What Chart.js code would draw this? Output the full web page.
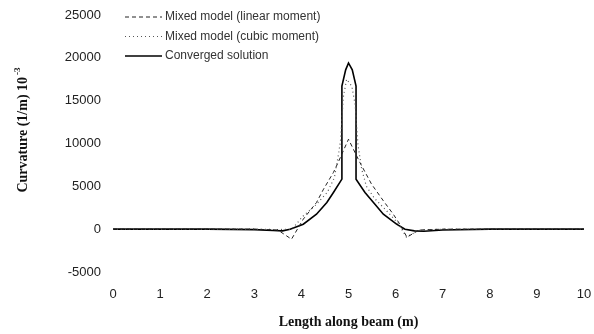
<!DOCTYPE html>
<html>
<head>
<meta charset="utf-8">
<title>Beam curvature</title>
<script src="https://cdn.jsdelivr.net/npm/chart.js@4.4.1/dist/chart.umd.min.js"></script>
<style>
    html, body { margin: 0; padding: 0; background: #fff; }
    #wrap { width: 594px; height: 334px; position: relative; }
</style>
</head>
<body>
<div id="wrap"><canvas id="curvatureChart"></canvas></div>
<script>
// ===== Data =====
const seriesNames = ['Mixed model (linear moment)', 'Mixed model (cubic moment)', 'Converged solution'];

const xTicks = [0, 1, 2, 3, 4, 5, 6, 7, 8, 9, 10];
const yTicks = [-5000, 0, 5000, 10000, 15000, 20000, 25000];

const linearX = [0, 1, 2, 3, 3.5, 3.79, 4.04, 4.32, 4.47, 4.68, 4.78, 5.0, 5.24, 5.49, 5.74, 5.95, 6.09, 6.24, 6.5, 7, 8, 9, 10];
const linearY = [0, 0, 0, 0, -100, -1170, 1170, 3110, 4670, 6620, 7790, 10500, 7800, 5250, 3310, 1750, 580, -930, -100, 0, 0, 0, 0];

const cubicX = [0, 1, 2, 3, 3.5, 3.8, 4.03, 4.3, 4.55, 4.7, 4.78, 4.83, 4.89, 4.96, 5.07, 5.14, 5.2, 5.28, 5.38, 5.55, 5.8, 6.05, 6.23, 6.5, 7, 8, 9, 10];
const cubicY = [0, 0, 0, 0, -50, 0, 1500, 2800, 4300, 6000, 8500, 10300, 15400, 17500, 16700, 14600, 9900, 7000, 5000, 3600, 2200, 700, -930, -100, 0, 0, 0, 0];

const convergedX = [0, 1, 2, 3, 3.4, 3.6, 3.76, 4.04, 4.32, 4.54, 4.68, 4.86, 4.86, 4.94, 5.0, 5.08, 5.16, 5.16, 5.35, 5.53, 5.74, 6.02, 6.2, 6.4, 6.6, 7, 8, 9, 10];
const convergedY = [0, 0, 0, -50, -150, -200, 0, 580, 1750, 3110, 4280, 5840, 16700, 18600, 19400, 18600, 16700, 5840, 4280, 3110, 1750, 580, 0, -200, -250, -100, 0, 0, 0];

function toPoints(xs, ys) {
    return xs.map((x, i) => ({ x: x, y: ys[i] }));
}

// ===== Legend drawn inside the plot, top left =====
const insideLegend = {
    id: 'insideLegend',
    afterDraw(chart) {
        const ctx = chart.ctx;
        ctx.save();
        ctx.font = '12px "Liberation Sans", Arial, sans-serif';
        ctx.textBaseline = 'middle';
        ctx.textAlign = 'left';
        chart.data.datasets.forEach((ds, i) => {
            const y = 17 + i * 19.5;
            ctx.strokeStyle = ds.borderColor;
            ctx.lineWidth = ds.borderWidth;
            ctx.setLineDash(ds.borderDash || []);
            ctx.beginPath();
            ctx.moveTo(125, y);
            ctx.lineTo(162, y);
            ctx.stroke();
            ctx.setLineDash([]);
            ctx.fillStyle = '#333';
            ctx.fillText(ds.label, 165, y);
        });
        ctx.restore();
    }
};

// ===== Rotated y title with superscript =====
const yTitle = {
    id: 'yTitle',
    afterDraw(chart) {
        const ctx = chart.ctx;
        const main = 'Curvature (1/m) 10';
        const sup = '-3';
        ctx.save();
        ctx.translate(23, 130);
        ctx.rotate(-Math.PI / 2);
        ctx.fillStyle = '#111';
        ctx.textBaseline = 'middle';
        ctx.textAlign = 'left';
        ctx.font = 'bold 14px "Liberation Serif", "Times New Roman", serif';
        const w = ctx.measureText(main).width;
        ctx.font = 'bold 9px "Liberation Serif", "Times New Roman", serif';
        const s = ctx.measureText(sup).width;
        const start = -(w + s + 2) / 2;
        ctx.font = 'bold 14px "Liberation Serif", "Times New Roman", serif';
        ctx.fillText(main, start, 0);
        ctx.font = 'bold 9px "Liberation Serif", "Times New Roman", serif';
        ctx.fillText(sup, start + w + 2, -5);
        ctx.restore();
    }
};

// ===== Initialize Chart =====
function initChart() {
    const ctx = document.getElementById('curvatureChart');
    if (!ctx) return;

    const data = {
        datasets: [{
            label: seriesNames[0],
            data: toPoints(linearX, linearY),
            borderColor: '#222',
            borderWidth: 1,
            borderDash: [4, 3],
        }, {
            label: seriesNames[1],
            data: toPoints(cubicX, cubicY),
            borderColor: '#555',
            borderWidth: 1.2,
            borderDash: [1, 3],
        }, {
            label: seriesNames[2],
            data: toPoints(convergedX, convergedY),
            borderColor: '#000',
            borderWidth: 1.6,
        }]
    };

    const tickFont = { family: '"Liberation Sans", Arial, sans-serif', size: 13 };

    const config = {
        type: 'line',
        data: data,
        options: {
            responsive: true,
            maintainAspectRatio: false,
            animation: false,
            layout: {
                padding: { left: 0, top: 15, right: 10, bottom: 0 }
            },
            elements: {
                point: { radius: 0 },
                line: { tension: 0, fill: false }
            },
            plugins: {
                legend: { display: false },
                tooltip: { enabled: false }
            },
            scales: {
                x: {
                    type: 'linear',
                    min: 0,
                    max: 10,
                    afterFit: (scale) => {
                        scale.height = 62;
                        scale.paddingLeft = 0;
                        scale.paddingRight = 0;
                    },
                    afterBuildTicks: (scale) => { scale.ticks = xTicks.map(v => ({ value: v })); },
                    grid: { display: false, drawTicks: false },
                    border: { display: false },
                    ticks: {
                        color: '#222',
                        font: tickFont,
                        padding: 15,
                        maxRotation: 0
                    },
                    title: {
                        display: true,
                        text: 'Length along beam (m)',
                        color: '#111',
                        font: { family: '"Liberation Serif", "Times New Roman", serif', size: 14, weight: 'bold' },
                        padding: { top: 0, bottom: 3 }
                    }
                },
                y: {
                    min: -5000,
                    max: 25000,
                    afterFit: (scale) => {
                        scale.width = 113;
                        scale.paddingTop = 0;
                        scale.paddingBottom = 0;
                    },
                    afterBuildTicks: (scale) => { scale.ticks = yTicks.map(v => ({ value: v })); },
                    grid: { display: false, drawTicks: false },
                    border: { display: false },
                    ticks: {
                        color: '#222',
                        font: tickFont,
                        padding: 12,
                        callback: function(value) {
                            return String(value);
                        }
                    }
                }
            }
        },
        plugins: [insideLegend, yTitle]
    };

    new Chart(ctx, config);
}

document.addEventListener('DOMContentLoaded', initChart);
</script>
</body>
</html>
